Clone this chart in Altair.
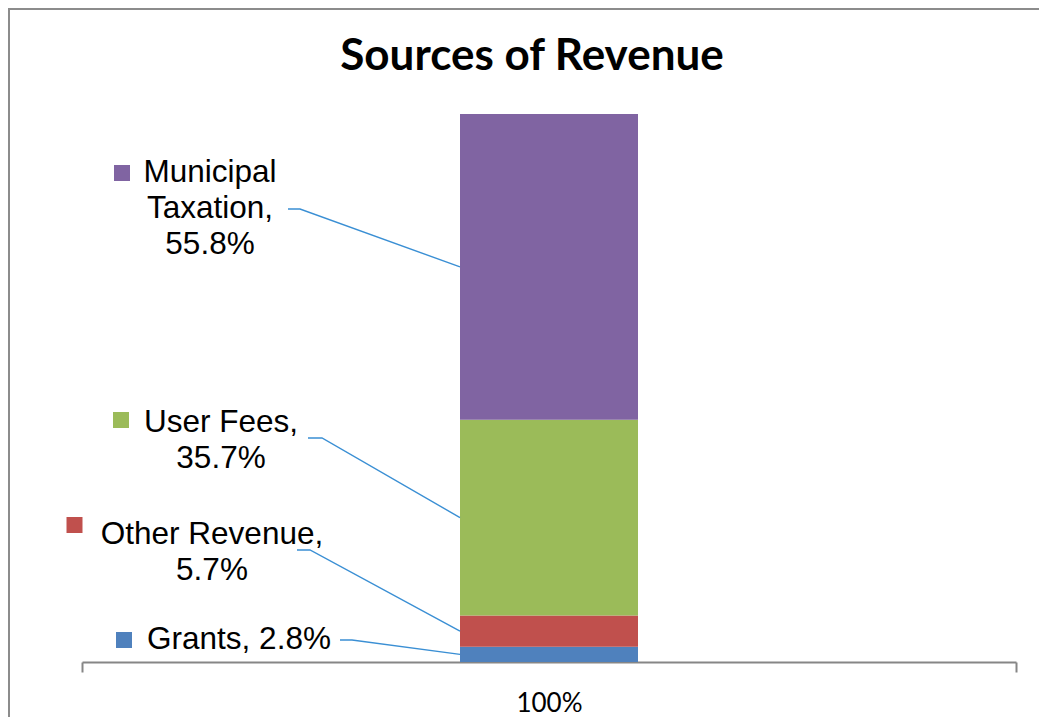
import altair as alt
import pandas as pd

# ---- data ----
categories = ["Grants", "Other Revenue", "User Fees", "Municipal Taxation"]
shares = [2.8, 5.7, 35.7, 55.8]
colors = ["#4F81BD", "#C0504D", "#9BBB59", "#8064A2"]
label_lines = ["Grants, 2.8%", "Other Revenue,\n5.7%", "User Fees,\n35.7%", "Municipal\nTaxation,\n55.8%"]
bar_category = "100%"
title_text = "Sources of Revenue"

# ---- layout (x in plot pixels, y in percent of the value scale) ----
label_x = [157, 130, 139, 128]
label_y = [4.01, 23.18, 43.61, 89.23]
square_x = [42, -7.5, 39, 40]
square_y = [4.01, 25.0, 44.16, 89.23]
leader_x0 = [258, 215, 226, 206]
leader_x1 = [270, 228, 240, 218]
leader_y = [4.01, 20.44, 40.88, 82.66]
PLOT_W, PLOT_H = 934, 548
BAR_W = 178
bar_left = PLOT_W / 2 - BAR_W / 2

# stacked midpoints from the data
mids = []
acc = 0.0
for v in shares:
    mids.append(acc + v / 2)
    acc += v

bars = pd.DataFrame({
    "cat": [bar_category] * 4,
    "source": categories,
    "share": shares,
    "ord": list(range(4)),
    "color": colors,
})

labels = pd.DataFrame({"txt": label_lines, "px": label_x, "py": label_y})
squares = pd.DataFrame({"px": square_x, "py": square_y, "color": colors})

pts = []
for i, c in enumerate(categories):
    pts.append({"src": c, "k": 0, "px": leader_x0[i], "py": leader_y[i]})
    pts.append({"src": c, "k": 1, "px": leader_x1[i], "py": leader_y[i]})
    pts.append({"src": c, "k": 2, "px": bar_left, "py": mids[i]})
leaders = pd.DataFrame(pts)

yscale = alt.Scale(domain=[0, 100], nice=False, zero=True)
xq = alt.Scale(domain=[0, PLOT_W], nice=False, zero=False)

bar = alt.Chart(bars).mark_bar(size=BAR_W).encode(
    x=alt.X("cat:N", scale=alt.Scale(paddingInner=0, paddingOuter=0),
            axis=alt.Axis(title=None, labelAngle=0, tickBand="extent", ticks=True,
                          tickSize=10, tickColor="#868686", tickWidth=2,
                          domainColor="#868686", domainWidth=2,
                          labelFont="Lato", labelFontSize=26, labelColor="#000000",
                          labelBaseline="bottom", labelPadding=44, grid=False)),
    y=alt.Y("share:Q", stack="zero", scale=yscale, axis=None),
    order=alt.Order("ord:Q", sort="ascending"),
    color=alt.Color("color:N", scale=None),
)

leader = alt.Chart(leaders).mark_line(color="#3A8FD4", strokeWidth=1.4).encode(
    x=alt.X("px:Q", scale=xq, axis=None),
    y=alt.Y("py:Q", scale=yscale, axis=None),
    detail="src:N",
    order="k:Q",
)

text = alt.Chart(labels).mark_text(
    font="Liberation Sans", fontSize=31.5, lineHeight=36, lineBreak="\n",
    align="center", baseline="middle", color="#000000"
).encode(
    x=alt.X("px:Q", scale=xq, axis=None),
    y=alt.Y("py:Q", scale=yscale, axis=None),
    text="txt:N",
)

sq = alt.Chart(squares).mark_square(size=256, opacity=1, filled=True).encode(
    x=alt.X("px:Q", scale=xq, axis=None),
    y=alt.Y("py:Q", scale=yscale, axis=None),
    color=alt.Color("color:N", scale=None),
)

title = alt.Chart(pd.DataFrame({"t": [title_text]})).mark_text(
    font="Lato", fontSize=44, fontWeight="bold", align="center",
    baseline="alphabetic", color="#000000"
).encode(
    x=alt.value(450), y=alt.value(-44), text="t:N",
)

border = alt.Chart(pd.DataFrame({"a": [0]})).mark_rect(
    fill=None, stroke="#8C8C8C", strokeWidth=2
).encode(
    x=alt.value(-73), x2=alt.value(PLOT_W + 60),
    y=alt.value(-105), y2=alt.value(PLOT_H + 80),
)

chart = alt.layer(border, bar, leader, sq, text, title).resolve_scale(
    x="independent"
).properties(
    width=PLOT_W, height=PLOT_H,
    autosize=alt.AutoSizeParams(type="none"),
    padding={"left": 74, "top": 106, "right": 23, "bottom": 55},
).configure_view(stroke=None)

chart.save("out.html", embed_options={"renderer": "svg", "actions": False})
